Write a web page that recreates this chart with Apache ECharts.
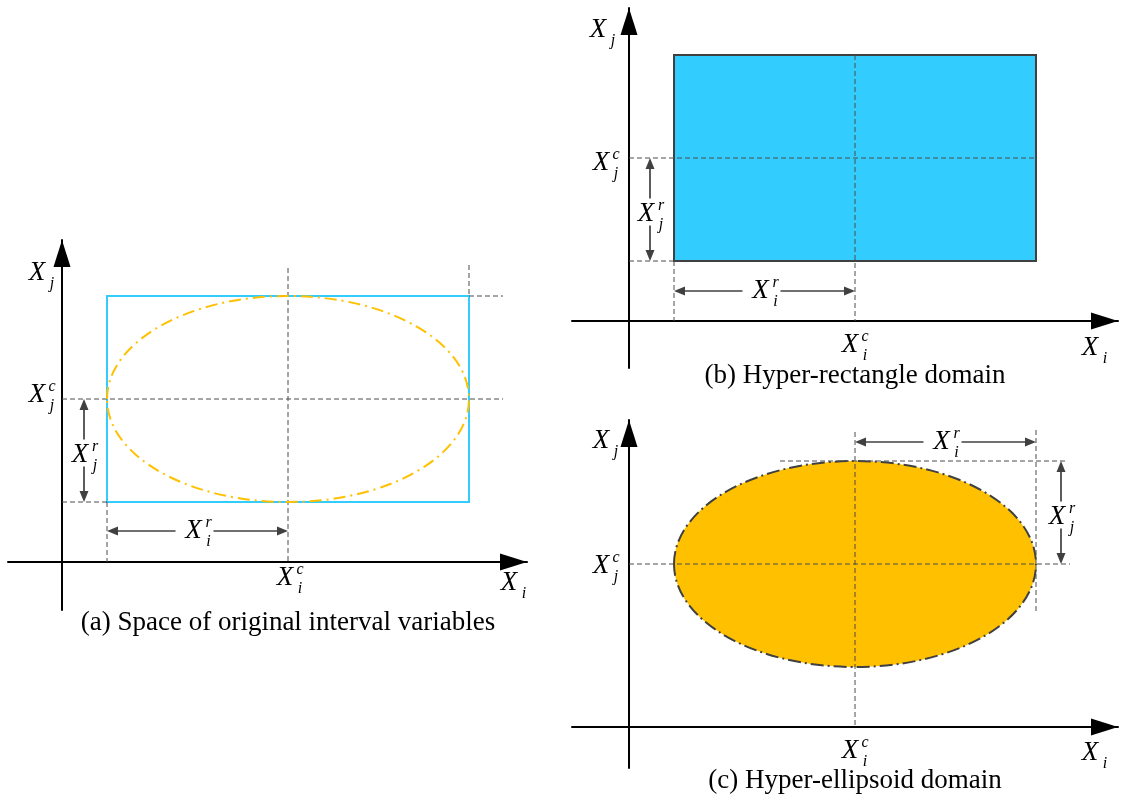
<!DOCTYPE html>
<html>
<head>
<meta charset="utf-8">
<script src="https://cdn.jsdelivr.net/npm/echarts@6/dist/echarts.min.js"></script>
<style>
  html, body { margin: 0; padding: 0; background: #ffffff; }
  #chart { width: 1121px; height: 802px; }
</style>
</head>
<body>
<div id="chart"></div>
<script>
// Interval variables X_i and X_j: centre and radius of each interval
const centre = [2.26, 1.63];   // [X_i^c, X_j^c]
const radius = [1.81, 1.03];   // [X_i^r, X_j^r]
const panelKinds = ['space', 'box', 'ellipsoid'];
const captions = [
  '(a) Space of original interval variables',
  '(b) Hyper-rectangle domain',
  '(c) Hyper-ellipsoid domain'
];

// ---- styling ----
const SERIF = '"Liberation Serif", "Times New Roman", serif';
const CYAN = '#33ccff';
const AMBER = '#ffc000';
const DARK = '#404040';
const GUIDE = '#4d4d4d';

// ---- layout of the three panels (pixels and axis extents) ----
const layout = [
  { grid: { left: 8, top: 240, width: 519, height: 370 }, x: [-0.54, 4.65], y: [-0.48, 3.22],
    axisJ: [-25, 33], axisI: [-18, 21], jc: [-25, -4], ic: [-3, 16], cap: 61 },
  { grid: { left: 572, top: 8, width: 546, height: 360 }, x: [-0.57, 4.89], y: [-0.47, 3.13],
    axisJ: [-31, 22], axisI: [-28, 27], jc: [-28, 5], ic: [-5, 24], cap: 55 },
  { grid: { left: 572, top: 420, width: 546, height: 348 }, x: [-0.57, 4.89], y: [-0.41, 3.07],
    axisJ: [-28, 21], axisI: [-28, 26], jc: [-28, 2], ic: [-5, 24], cap: 54 }
];

// ---- drawing helpers (pixel space) ----
function txt(x, y, s, size, italic) {
  return {
    type: 'text', x: x, y: y, silent: true,
    style: {
      text: s, fill: '#000',
      font: (italic ? 'italic ' : '') + size + 'px ' + SERIF,
      align: 'center', verticalAlign: 'middle'
    }
  };
}
// X with stacked superscript / subscript
function sym(x, y, sup, sub) {
  const out = [txt(x, y, 'X', 27, true)];
  if (sup) out.push(txt(x + 15, y - 8, sup, 16, true));
  if (sub) out.push(txt(x + 15, y + 11, sub, 16, true));
  return out;
}
function dashed(a, b) {
  return {
    type: 'line', silent: true,
    shape: { x1: a[0], y1: a[1], x2: b[0], y2: b[1] },
    style: { stroke: GUIDE, lineWidth: 1, lineDash: [5, 3] }
  };
}
function seg(x1, y1, x2, y2) {
  return { type: 'line', silent: true, shape: { x1, y1, x2, y2 },
           style: { stroke: DARK, lineWidth: 1.7 } };
}
function head(pts) {
  return { type: 'polygon', silent: true, shape: { points: pts }, style: { fill: DARK } };
}
const HL = 11, HW = 4.5;
// double-headed dimension arrow with a label in a gap
function dimArrow(a, b, horizontal, sup, sub) {
  const els = [];
  if (horizontal) {
    const y = a[1], x0 = Math.min(a[0], b[0]), x1 = Math.max(a[0], b[0]);
    const lx = (x0 + x1) / 2 - 4;
    els.push(seg(x0 + HL - 1, y, lx - 18, y), seg(lx + 20, y, x1 - HL + 1, y));
    els.push(head([[x0, y], [x0 + HL, y - HW], [x0 + HL, y + HW]]));
    els.push(head([[x1, y], [x1 - HL, y - HW], [x1 - HL, y + HW]]));
    return els.concat(sym(lx, y, sup, sub));
  }
  const x = a[0], y0 = Math.min(a[1], b[1]), y1 = Math.max(a[1], b[1]);
  const ly = (y0 + y1) / 2 + 4;
  els.push(seg(x, y0 + HL - 1, x, ly - 15), seg(x, ly + 12, x, y1 - HL + 1));
  els.push(head([[x, y0], [x - HW, y0 + HL], [x + HW, y0 + HL]]));
  els.push(head([[x, y1], [x - HW, y1 - HL], [x + HW, y1 - HL]]));
  return els.concat(sym(x - 4, ly, sup, sub));
}
function off(p, d) { return [p[0] + d[0], p[1] + d[1]]; }

function makeRenderer(k) {
  const lay = layout[k];
  const kind = panelKinds[k];
  return function (params, api) {
    const cx = api.value(0), cy = api.value(1), rx = api.value(2), ry = api.value(3);
    const P = (x, y) => api.coord([x, y]);
    const L = cx - rx, R = cx + rx, B = cy - ry, T = cy + ry;
    const pc = P(cx, cy), pLB = P(L, B), pRT = P(R, T);
    const els = [];

    if (kind === 'space') {
      els.push({ type: 'rect', silent: true,
        shape: { x: pLB[0], y: pRT[1], width: pRT[0] - pLB[0], height: pLB[1] - pRT[1] },
        style: { fill: 'none', stroke: CYAN, lineWidth: 2 } });
      els.push(dashed(P(cx, T + 0.28), P(cx, 0)));
      els.push(dashed(P(R, T + 0.31), P(R, T)));
      els.push(dashed(P(R, T), P(R + 0.34, T)));
      els.push(dashed(P(0, cy), P(R + 0.34, cy)));
      els.push(dashed(P(0, B), P(L, B)));
      els.push(dashed(P(L, B), P(L, 0)));
      els.push({ type: 'ellipse', silent: true,
        shape: { cx: pc[0], cy: pc[1], rx: pRT[0] - pc[0], ry: pc[1] - pRT[1] },
        style: { fill: 'none', stroke: AMBER, lineWidth: 2, lineDash: [12, 5, 2, 5] } });
      els.push(...dimArrow(P(0.22, cy), P(0.22, B), false, 'r', 'j'));
      els.push(...dimArrow(P(L, 0.31), P(cx, 0.31), true, 'r', 'i'));
    } else if (kind === 'box') {
      els.push({ type: 'rect', silent: true,
        shape: { x: pLB[0], y: pRT[1], width: pRT[0] - pLB[0], height: pLB[1] - pRT[1] },
        style: { fill: CYAN, stroke: DARK, lineWidth: 2 } });
      els.push(dashed(P(cx, T), P(cx, 0)));
      els.push(dashed(P(0, cy), P(R, cy)));
      els.push(dashed(P(0, B), P(L, B)));
      els.push(dashed(P(L, B), P(L, 0)));
      els.push(...dimArrow(P(0.21, cy), P(0.21, B), false, 'r', 'j'));
      els.push(...dimArrow(P(L, 0.30), P(cx, 0.30), true, 'r', 'i'));
    } else {
      els.push({ type: 'ellipse', silent: true,
        shape: { cx: pc[0], cy: pc[1], rx: pRT[0] - pc[0], ry: pc[1] - pRT[1] },
        style: { fill: AMBER, stroke: DARK, lineWidth: 2, lineDash: [13, 4, 2, 4] } });
      els.push(dashed(P(cx, T + 0.29), P(cx, 0)));
      els.push(dashed(P(0, cy), P(R + 0.34, cy)));
      els.push(dashed(P(cx - 0.75, T), P(R + 0.32, T)));
      els.push(dashed(P(R, T + 0.31), P(R, cy - 0.48)));
      els.push(...dimArrow(P(cx, T + 0.19), P(R, T + 0.19), true, 'r', 'i'));
      els.push(...dimArrow(P(R + 0.25, T), P(R + 0.25, cy), false, 'r', 'j'));
    }

    // axis names and centre labels
    const tipJ = P(0, lay.y[1]), tipI = P(lay.x[1], 0);
    els.push(...sym(...off(tipJ, lay.axisJ), null, 'j'));
    els.push(...sym(...off(tipI, lay.axisI), null, 'i'));
    els.push(...sym(...off(P(0, cy), lay.jc), 'c', 'j'));
    els.push(...sym(...off(P(cx, 0), lay.ic), 'c', 'i'));

    // panel caption, centred under X_i^c
    const pb = P(cx, 0);
    els.push(txt(pb[0], pb[1] + lay.cap, captions[k], 27, false));

    return { type: 'group', children: els };
  };
}

const axisLine = {
  show: true, onZero: true,
  symbol: ['none', 'triangle'], symbolSize: [17, 27], symbolOffset: [0, -13.5],
  lineStyle: { color: '#000', width: 2 }
};
const hiddenParts = {
  axisTick: { show: false }, axisLabel: { show: false },
  splitLine: { show: false }, axisPointer: { show: false }
};

const option = {
  animation: false,
  backgroundColor: '#ffffff',
  grid: layout.map(l => Object.assign({ containLabel: false, outerBoundsMode: 'none' }, l.grid)),
  xAxis: layout.map((l, k) => Object.assign({
    type: 'value', gridIndex: k, min: l.x[0], max: l.x[1], axisLine: axisLine
  }, hiddenParts)),
  yAxis: layout.map((l, k) => Object.assign({
    type: 'value', gridIndex: k, min: l.y[0], max: l.y[1], axisLine: axisLine
  }, hiddenParts)),
  series: panelKinds.map((kind, k) => ({
    type: 'custom',
    name: kind,
    coordinateSystem: 'cartesian2d',
    xAxisIndex: k, yAxisIndex: k,
    clip: false, silent: true,
    data: [[centre[0], centre[1], radius[0], radius[1]]],
    renderItem: makeRenderer(k)
  }))
};

const chart = echarts.init(document.getElementById('chart'), null, { renderer: 'canvas' });
chart.setOption(option);
</script>
</body>
</html>
